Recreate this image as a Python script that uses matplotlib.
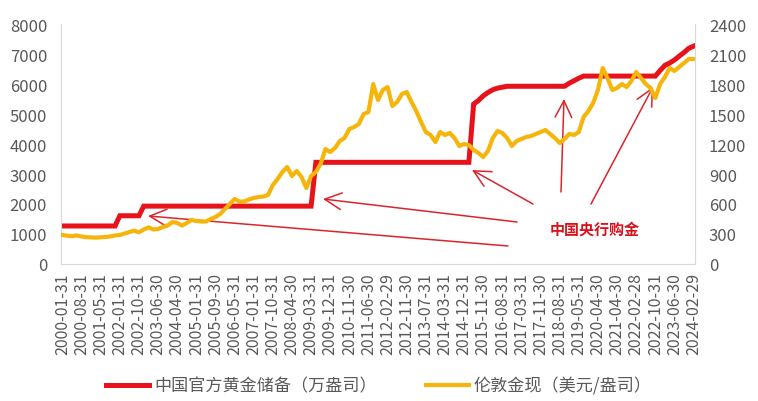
import matplotlib
matplotlib.use("Agg")
import matplotlib.pyplot as plt

plt.rcParams['font.family'] = ['Noto Sans CJK SC', 'DejaVu Sans']

# category axis labels (one every 4 data points)
tick_labels = ['2000-01-31', '2000-08-31', '2001-05-31', '2002-01-31', '2002-10-31',
               '2003-06-30', '2004-04-30', '2005-01-31', '2005-09-30', '2006-05-31',
               '2007-01-31', '2007-10-31', '2008-04-30', '2009-03-31', '2009-12-31',
               '2010-11-30', '2011-06-30', '2012-02-29', '2012-11-30', '2013-07-31',
               '2014-03-31', '2014-12-31', '2015-11-30', '2016-08-31', '2017-03-31',
               '2017-11-30', '2018-08-31', '2019-05-31', '2020-04-30', '2021-04-30',
               '2022-02-28', '2022-10-31', '2023-06-30', '2024-02-29']

# China official gold reserves (10k oz)
reserves = ([1267] * 12 + [1608] * 5 + [1929] * 36 + [3389] * 33 +
            [5331, 5450, 5605, 5718, 5808, 5862, 5894] + [5924] * 13 +
            [6026, 6110, 6194] + [6264] * 16 +
            [6450, 6620, 6700, 6800, 6930, 7050, 7190, 7260])

# London spot gold (USD/oz)
gold = [290, 283, 278, 285, 275, 268, 266, 264, 267, 270, 275, 285,
        290, 305, 320, 333, 317, 345, 367, 345, 350, 370, 385, 420,
        410, 385, 410, 440, 430, 425, 425, 450, 470, 500, 550, 600,
        650, 625, 625, 645, 660, 670, 675, 690, 790, 850, 920, 970,
        880, 930, 870, 760, 880, 920, 1000, 1150, 1120, 1160, 1230, 1260,
        1350, 1370, 1400, 1500, 1520, 1800, 1640, 1740, 1770, 1580, 1620, 1700,
        1720, 1620, 1530, 1420, 1320, 1290, 1220, 1320, 1290, 1310, 1260, 1180,
        1200, 1190, 1140, 1110, 1070, 1130, 1260, 1330, 1310, 1260, 1180, 1230,
        1250, 1270, 1280, 1300, 1320, 1340, 1300, 1260, 1210, 1250, 1300, 1290,
        1320, 1470, 1530, 1610, 1740, 1960, 1860, 1740, 1760, 1800, 1770, 1830,
        1920, 1860, 1800, 1760, 1660, 1800, 1870, 1960, 1930, 1970, 2010, 2050,
        2050]

RED = '#E8121B'
GOLD = '#F5B50A'
GREY = '#595959'
AXIS = '#D9D9D9'

fig = plt.figure(figsize=(7.58, 4.02), dpi=100)
ax = fig.add_axes([0.0805, 0.3408, 0.8364, 0.597])
ax2 = ax.twinx()

x = list(range(len(gold)))
l1, = ax.plot(x, reserves, color=RED, lw=3.6, solid_joinstyle='miter',
              label='中国官方黄金储备（万盎司）')
l2, = ax2.plot(x, gold, color=GOLD, lw=3.0, label='伦敦金现（美元/盎司）')

ax.set_xlim(-0.3, len(gold) - 0.7)
ax.set_ylim(0, 8000)
ax.set_yticks(range(0, 8001, 1000))
ax2.set_ylim(0, 2400)
ax2.set_yticks(range(0, 2401, 300))
ax.set_xticks(range(0, len(gold), 4))
ax.set_xticklabels(tick_labels, rotation=90)

ax.tick_params(axis='y', length=0, pad=10, labelsize=12, labelcolor=GREY)
ax2.tick_params(axis='y', length=0, pad=10, labelsize=12, labelcolor=GREY)
ax.tick_params(axis='x', length=0, pad=6, labelsize=11.5, labelcolor=GREY)

for a in (ax, ax2):
    a.spines['top'].set_visible(False)
ax2.spines['left'].set_visible(False)
ax2.spines['bottom'].set_visible(False)
ax.spines['right'].set_visible(False)
for s in ('left', 'bottom'):
    ax.spines[s].set_color(AXIS)
ax2.spines['right'].set_color(AXIS)

# arrows: (tail, head) in figure pixels
arrows = [((508, 155), (148, 185)),
          ((517, 179), (323, 202)),
          ((533, 197), (472, 231)),
          ((561, 209), (564, 302)),
          ((591, 197), (653, 314))]
for tail, head in arrows:
    ax.annotate('', xy=head, xytext=tail, xycoords='figure pixels',
                textcoords='figure pixels', annotation_clip=False,
                arrowprops=dict(arrowstyle='->', color='#D9262B', lw=1.1,
                                mutation_scale=30, shrinkA=0, shrinkB=0))
fig.text(595 / 758, 172 / 402, '中国央行购金', color='#D7141C', fontsize=10.8,
         fontweight='bold', ha='center', va='center')

fig.legend([l1, l2], [l1.get_label(), l2.get_label()], loc='center',
           bbox_to_anchor=(0.5, 0.038), ncol=2, frameon=False, fontsize=12.3,
           handlelength=2.5, handletextpad=0.3, columnspacing=2.9,
           labelcolor=GREY)

fig.savefig('out.png', dpi=100)
